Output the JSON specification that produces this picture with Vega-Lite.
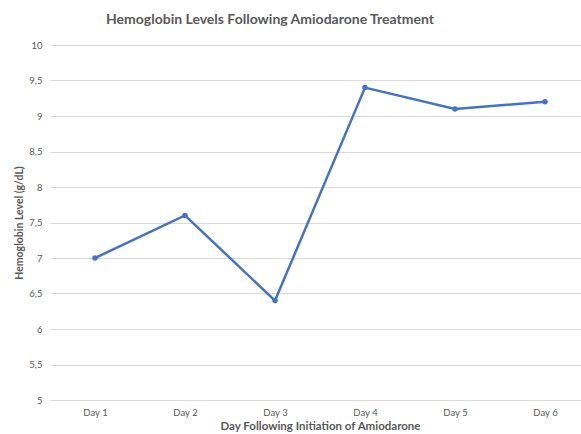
{
  "$schema": "https://vega.github.io/schema/vega-lite/v6.json",
  "width": 540,
  "height": 355,
  "autosize": {"type": "none"},
  "padding": {"left": 50, "top": 45, "right": 0, "bottom": 34},
  "background": "white",
  "config": {"view": {"stroke": null}, "font": "Lato"},
  "title": {
    "text": "Hemoglobin Levels Following Amiodarone Treatment",
    "fontSize": 14,
    "fontWeight": "bold",
    "color": "#595959",
    "font": "Lato",
    "anchor": "middle",
    "dx": -50,
    "offset": 13
  },
  "data": {
    "values": [
      {"day": "Day 1", "hb": 7.0},
      {"day": "Day 2", "hb": 7.6},
      {"day": "Day 3", "hb": 6.4},
      {"day": "Day 4", "hb": 9.4},
      {"day": "Day 5", "hb": 9.1},
      {"day": "Day 6", "hb": 9.2}
    ]
  },
  "mark": {"type": "line", "color": "#4472C4", "strokeWidth": 2.5, "point": {"filled": true, "size": 30, "color": "#4472C4"}},
  "encoding": {
    "x": {
      "field": "day",
      "type": "ordinal",
      "scale": {"paddingInner": 0, "paddingOuter": 0.5},
      "axis": {
        "title": "Day Following Initiation of Amiodarone",
        "titleFontSize": 11.5,
        "titleFontWeight": "bold",
        "titleColor": "#595959",
        "titlePadding": 4,
        "labelAngle": 0,
        "labelFontSize": 9.5,
        "labelColor": "#595959",
        "labelPadding": 7,
        "domain": false,
        "ticks": false,
        "grid": false
      }
    },
    "y": {
      "field": "hb",
      "type": "quantitative",
      "scale": {"domain": [5, 10], "nice": false, "zero": false},
      "axis": {
        "title": "Hemoglobin Level (g/dL)",
        "titleFontSize": 10.5,
        "titleFontWeight": "bold",
        "titleColor": "#595959",
        "titlePadding": 4,
        "values": [5, 5.5, 6, 6.5, 7, 7.5, 8, 8.5, 9, 9.5, 10],
        "labelExpr": "replace(toString(datum.value), '.', ',')",
        "labelFontSize": 9.5,
        "labelColor": "#595959",
        "labelPadding": 8,
        "domain": false,
        "ticks": false,
        "grid": true,
        "gridColor": "#D9D9D9",
        "gridWidth": 1
      }
    }
  }
}
